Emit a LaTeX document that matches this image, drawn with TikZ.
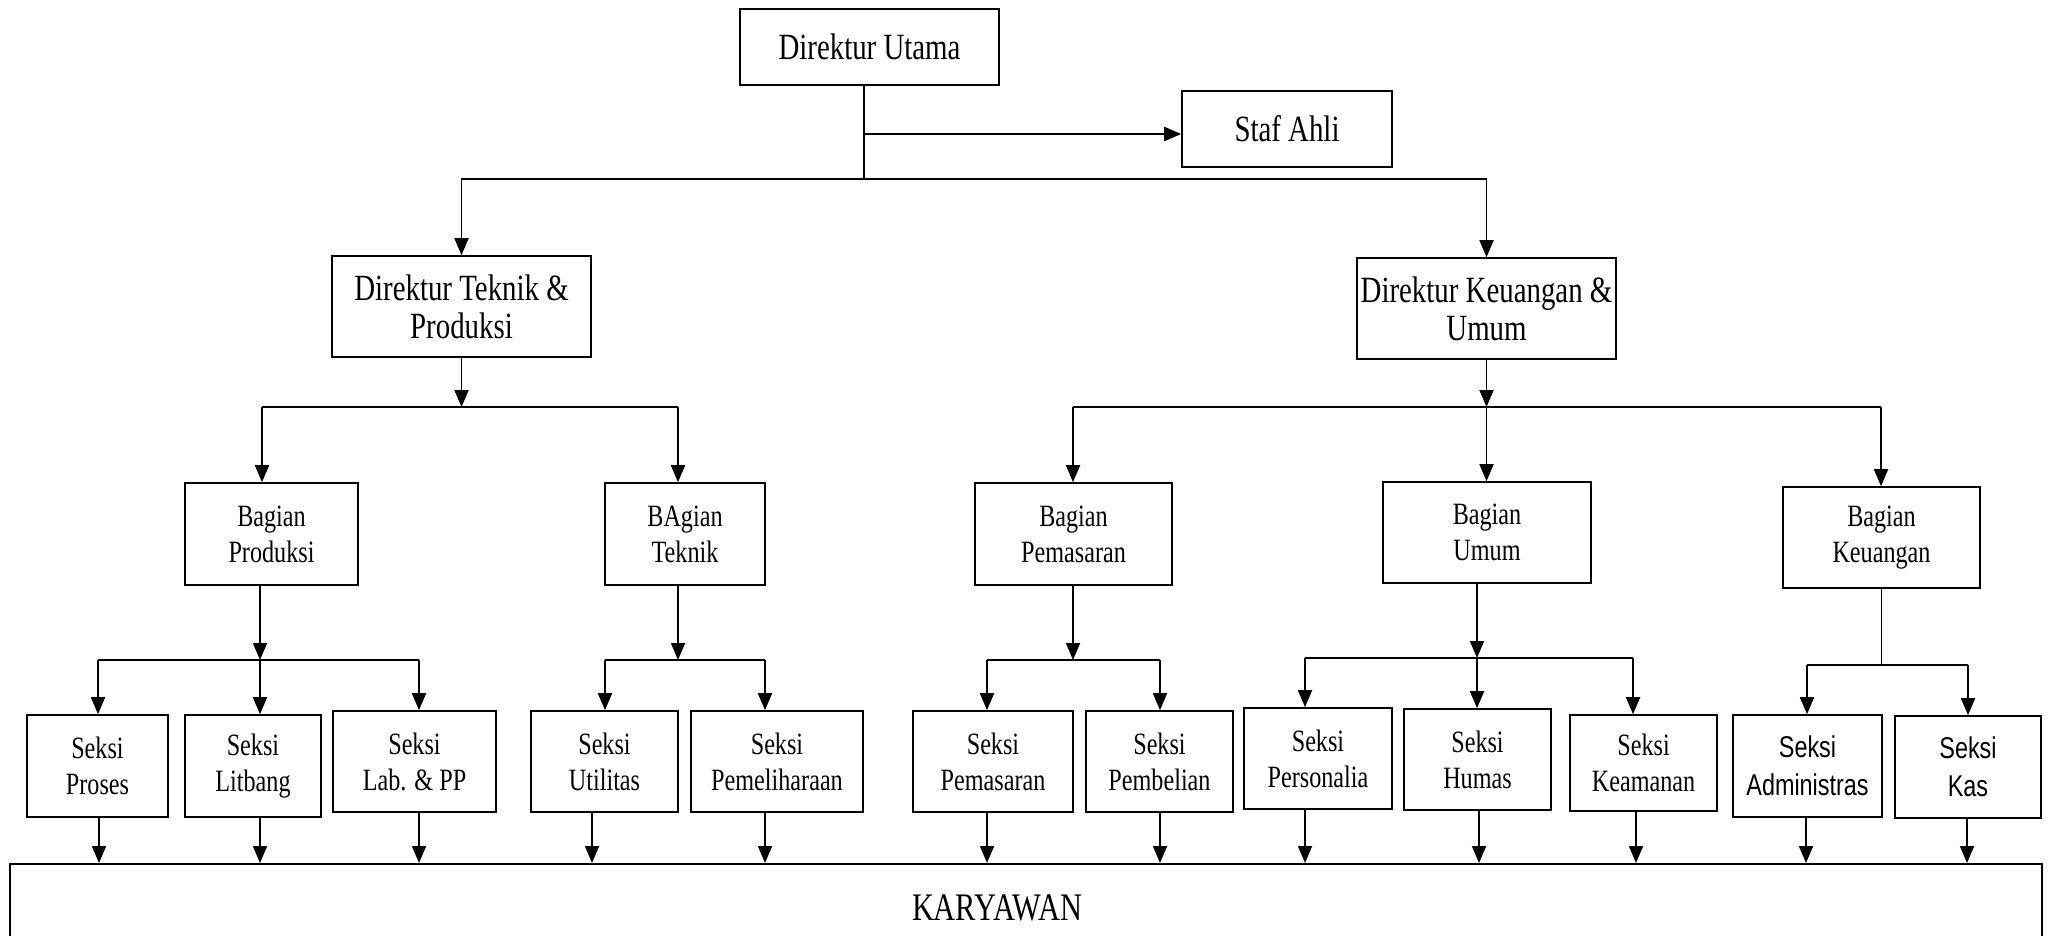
\documentclass[tikz,border=0pt]{standalone}
\usepackage{fontspec}
\newfontfamily\orgserif[FakeStretch=0.78]{Liberation Serif}
\newfontfamily\orgsans[FakeStretch=0.78]{Liberation Sans}
\usetikzlibrary{arrows.meta}

\newcommand{\dirfont}{\orgserif\fontsize{37}{38}\selectfont}
\newcommand{\unitfont}{\orgserif\fontsize{31}{36}\selectfont}
\newcommand{\kasfont}{\orgsans\fontsize{30}{38}\selectfont}

\tikzset{
  box/.style={draw, line width=1.6pt, inner sep=0pt, align=center, font=\unitfont},
  dirbox/.style={box, font=\dirfont},
  link/.style={line width=1.8pt},
  arr/.style={link, -{Triangle[length=17pt,width=14pt]}}
}

\begin{document}
\begin{tikzpicture}[x=1pt, y=-1pt]
            \useasboundingbox (0,0) rectangle (2052,936);
            \clip (0,0) rectangle (2052,936);

            % direksi
            \node[dirbox, minimum width=259pt, minimum height=76pt] (diru) at (869.5,47) {Direktur Utama};
            \node[dirbox, minimum width=210pt, minimum height=76pt] (staf) at (1287,129) {Staf Ahli};
            \node[dirbox, minimum width=259pt, minimum height=101pt] (dirt) at (461.5,306.5) {Direktur Teknik \&\\ Produksi};
            \node[dirbox, minimum width=259pt, minimum height=101pt] (dirk) at (1486.5,308.5) {Direktur Keuangan \&\\ Umum};

            % bagian
            \node[box, minimum width=173pt, minimum height=102pt] (bprod) at (271.5,534) {Bagian\\ Produksi};
            \node[box, minimum width=160pt, minimum height=102pt] (btek) at (685,534) {BAgian\\ Teknik};
            \node[box, minimum width=197pt, minimum height=102pt] (bpem) at (1073.5,534) {Bagian\\ Pemasaran};
            \node[box, minimum width=208pt, minimum height=101pt] (bumum) at (1487,532.5) {Bagian\\ Umum};
            \node[box, minimum width=197pt, minimum height=101pt] (bkeu) at (1881.5,537.5) {Bagian\\ Keuangan};

            % seksi
            \node[box, minimum width=141pt, minimum height=102pt] (proses) at (97.5,766) {Seksi\\ Proses};
            \node[box, minimum width=136pt, minimum height=102pt] (litbang) at (253,766) {Seksi\\ Litbang};
            \node[box, minimum width=163pt, minimum height=101pt] (lab) at (414.5,761.5) {Seksi\\ Lab. \& PP};
            \node[box, minimum width=147pt, minimum height=101pt] (utilitas) at (604.5,761.5) {Seksi\\ Utilitas};
            \node[box, minimum width=172pt, minimum height=101pt] (pemeliharaan) at (777,761.5) {Seksi\\ Pemeliharaan};
            \node[box, minimum width=160pt, minimum height=101pt] (spemasaran) at (993,761.5) {Seksi\\ Pemasaran};
            \node[box, minimum width=147pt, minimum height=101pt] (pembelian) at (1159.5,761.5) {Seksi\\ Pembelian};
            \node[box, minimum width=148pt, minimum height=101pt] (personalia) at (1318,758.5) {Seksi\\ Personalia};
            \node[box, minimum width=147pt, minimum height=101pt] (humas) at (1477.5,759.5) {Seksi\\ Humas};
            \node[box, minimum width=147pt, minimum height=96pt] (keamanan) at (1643.5,763) {Seksi\\ Keamanan};
            \node[box, font=\kasfont, minimum width=149pt, minimum height=102pt] (administras) at (1807.5,766) {Seksi\\ Administras};
            \node[box, font=\kasfont, minimum width=146pt, minimum height=102pt] (kas) at (1968,767) {Seksi\\ Kas};

            \node[box, minimum width=2032pt, minimum height=88pt, anchor=north,
                  label={[font=\orgserif\fontsize{39}{40}\selectfont, xshift=-29pt]center:KARYAWAN}] (karyawan) at (1026,863) {};

            % direktur utama
            \coordinate (hub) at (864,179);
            \coordinate (stafjoin) at (864,134);
            \draw[link] (hub |- diru.south) -- (hub);
            \draw[arr, line width=2.4pt] (stafjoin) -- (stafjoin -| staf.west);
            \draw[arr] (hub) -| (dirt.north);
            \draw[arr] (hub) -| (dirk.north);

            % teknik & produksi
            \coordinate (t1) at (262,407);
            \coordinate (t2) at (678,407);
            \draw[arr] (dirt.south) -- (dirt.south |- t1);
            \draw[link] (t1) -- (t2);
            \draw[arr] (t1) -- (t1 |- bprod.north);
            \draw[arr] (t2) -- (t2 |- btek.north);

            % keuangan & umum
            \coordinate (k1) at (1073,407);
            \coordinate (k2) at (1881,407);
            \draw[arr] (dirk.south) -- (dirk.south |- k1);
            \draw[link] (k1) -- (k2);
            \draw[arr] (k1) -- (k1 |- bpem.north);
            \draw[arr] (dirk.south |- k1) -- (dirk.south |- bumum.north);
            \draw[arr] (k2) -- (k2 |- bkeu.north);

            % produksi
            \coordinate (p0) at (260,660);
            \coordinate (p1) at (98,660);
            \coordinate (p2) at (419,660);
            \draw[arr] (p0 |- bprod.south) -- (p0);
            \draw[link] (p1) -- (p2);
            \draw[arr] (p1) -- (p1 |- proses.north);
            \draw[arr] (p0) -- (p0 |- litbang.north);
            \draw[arr] (p2) -- (p2 |- lab.north);

            % teknik
            \coordinate (e0) at (678,660);
            \coordinate (e1) at (605,660);
            \coordinate (e2) at (765,660);
            \draw[arr] (e0 |- btek.south) -- (e0);
            \draw[link] (e1) -- (e2);
            \draw[arr] (e1) -- (e1 |- utilitas.north);
            \draw[arr] (e2) -- (e2 |- pemeliharaan.north);

            % pemasaran
            \coordinate (m0) at (1073,660);
            \coordinate (m1) at (987,660);
            \coordinate (m2) at (1160,660);
            \draw[arr] (m0 |- bpem.south) -- (m0);
            \draw[link] (m1) -- (m2);
            \draw[arr] (m1) -- (m1 |- spemasaran.north);
            \draw[arr] (m2) -- (m2 |- pembelian.north);

            % umum
            \coordinate (u0) at (1477,658);
            \coordinate (u1) at (1305,658);
            \coordinate (u2) at (1633,658);
            \draw[arr] (u0 |- bumum.south) -- (u0);
            \draw[link] (u1) -- (u2);
            \draw[arr] (u1) -- (u1 |- personalia.north);
            \draw[arr] (u0) -- (u0 |- humas.north);
            \draw[arr] (u2) -- (u2 |- keamanan.north);

            % keuangan
            \coordinate (a1) at (1807,665);
            \coordinate (a2) at (1968,665);
            \draw[link] (bkeu.south) -- (bkeu.south |- a1);
            \draw[link] (a1) -- (a2);
            \draw[arr] (a1) -- (a1 |- administras.north);
            \draw[arr] (a2) -- (a2 |- kas.north);

            % ke karyawan
            \foreach \n/\x in {proses/99, litbang/260, lab/419, utilitas/592, pemeliharaan/765,
                               spemasaran/987, pembelian/1160, personalia/1305, humas/1479,
                               keamanan/1636, administras/1806, kas/1967}
              \draw[arr] (\x,0 |- \n.south) -- (\x,0 |- karyawan.north);

        \end{tikzpicture}
\end{document}
